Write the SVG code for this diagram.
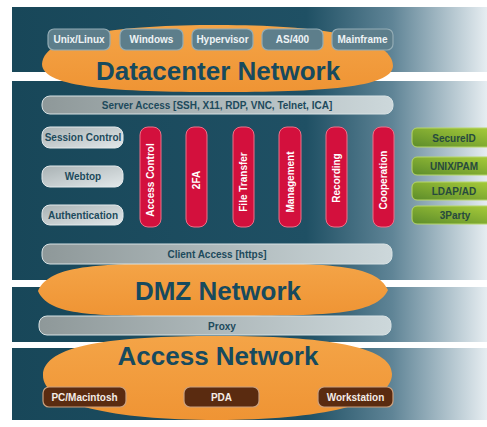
<svg xmlns="http://www.w3.org/2000/svg" width="487" height="427" viewBox="0 0 487 427">
<defs>
<linearGradient id="bg" x1="0" y1="0" x2="1" y2="0">
<stop offset="0" stop-color="#184759"/>
<stop offset="0.62" stop-color="#1f5064"/>
<stop offset="0.8" stop-color="#5f8496"/>
<stop offset="1" stop-color="#e6edf1"/>
</linearGradient>
<linearGradient id="bar" x1="0" y1="0" x2="1" y2="0">
<stop offset="0" stop-color="#8e9899"/>
<stop offset="1" stop-color="#cdd8db"/>
</linearGradient>
<linearGradient id="lbox" x1="0" y1="0" x2="1" y2="1">
<stop offset="0" stop-color="#a9b2b4"/>
<stop offset="1" stop-color="#e2e8ea"/>
</linearGradient>
<linearGradient id="grn" x1="0" y1="1" x2="1" y2="0">
<stop offset="0" stop-color="#5c8c2a"/>
<stop offset="1" stop-color="#a8cc3a"/>
</linearGradient>
<linearGradient id="org" x1="0" y1="0" x2="0" y2="1">
<stop offset="0" stop-color="#f4a447"/>
<stop offset="1" stop-color="#ef9434"/>
</linearGradient>
</defs>
<style>
.t{font-family:"Liberation Sans",Arial,sans-serif;font-weight:bold;font-size:10px;text-anchor:middle}
.big{font-family:"Liberation Sans",Arial,sans-serif;font-weight:bold;font-size:26px;text-anchor:middle;fill:#174a5e}
.top rect{fill:#5d7e8b;stroke:#93acb5;stroke-width:1.2}
.top text{fill:#eef3f5}
.bar rect{fill:url(#bar);stroke:#d8e2e4;stroke-width:1}
.bar text{fill:#1d4a5c}
.lb rect{fill:url(#lbox);stroke:#e4eaec;stroke-width:1}
.lb text{fill:#1d4a5c}
.pill rect{fill:#d3103d;stroke:#ee7088;stroke-width:1}
.pill text{fill:#ffffff}
.gb rect{fill:url(#grn);stroke:#b7d66a;stroke-width:1}
.gb text{fill:#274a3e}
.bb rect{fill:#5a2b10;stroke:#caa07e;stroke-width:1.2}
.bb text{fill:#f4ece6}
.net{fill:url(#org)}
</style>
<rect x="0" y="0" width="487" height="427" fill="#ffffff"/>
<g id="background">
<rect x="12" y="7" width="475" height="65" fill="url(#bg)"/>
<rect x="12" y="81" width="475" height="199" fill="url(#bg)"/>
<rect x="12" y="287" width="475" height="55" fill="url(#bg)"/>
<rect x="12" y="348" width="475" height="72" fill="url(#bg)"/>
</g>
<g id="connectors"></g>
<g id="datacenter-network">
<path class="net" d="M42 64 C44 34 120 25 218 25 C318 25 392 36 393 66 C392 88 320 92 218 92 C118 92 42 88 42 64 Z"/>
<text class="big" x="218" y="80">Datacenter Network</text>
</g>
<g id="unix-linux" class="top"><rect x="48" y="29" width="62" height="21" rx="6"/><text class="t" x="79" y="43">Unix/Linux</text></g>
<g id="windows" class="top"><rect x="120" y="29" width="63" height="21" rx="6"/><text class="t" x="151.5" y="43">Windows</text></g>
<g id="hypervisor" class="top"><rect x="192" y="29" width="61" height="21" rx="6"/><text class="t" x="222.5" y="43">Hypervisor</text></g>
<g id="as400" class="top"><rect x="262" y="29" width="61" height="21" rx="6"/><text class="t" x="292.5" y="43">AS/400</text></g>
<g id="mainframe" class="top"><rect x="332" y="29" width="61" height="21" rx="6"/><text class="t" x="362.5" y="43">Mainframe</text></g>
<g id="server-access" class="bar"><rect x="42" y="96" width="351" height="18" rx="8"/><text class="t" x="217" y="109">Server Access [SSH, X11, RDP, VNC, Telnet, ICA]</text></g>
<g id="session-control" class="lb"><rect x="42" y="127" width="81" height="21" rx="8"/><text class="t" x="83" y="141">Session Control</text></g>
<g id="webtop" class="lb"><rect x="42" y="166" width="81" height="21" rx="8"/><text class="t" x="83" y="180">Webtop</text></g>
<g id="authentication" class="lb"><rect x="42" y="205" width="81" height="20" rx="8"/><text class="t" x="83" y="219">Authentication</text></g>
<g id="access-control" class="pill"><rect x="140" y="127" width="21" height="100" rx="8"/><text class="t" transform="translate(154 180) rotate(-90)">Access Control</text></g>
<g id="twofa" class="pill"><rect x="186" y="127" width="21" height="100" rx="8"/><text class="t" transform="translate(200 180) rotate(-90)">2FA</text></g>
<g id="file-transfer" class="pill"><rect x="233" y="127" width="21" height="100" rx="8"/><text class="t" transform="translate(247 182) rotate(-90)">File Transfer</text></g>
<g id="management" class="pill"><rect x="279" y="127" width="22" height="100" rx="8"/><text class="t" transform="translate(293.5 182) rotate(-90)">Management</text></g>
<g id="recording" class="pill"><rect x="326" y="127" width="21" height="100" rx="8"/><text class="t" transform="translate(340 178) rotate(-90)">Recording</text></g>
<g id="cooperation" class="pill"><rect x="373" y="127" width="21" height="100" rx="8"/><text class="t" transform="translate(387 180) rotate(-90)">Cooperation</text></g>
<g id="secureid" class="gb"><rect x="412" y="128" width="80" height="19" rx="5"/><text class="t" x="454" y="141.5">SecureID</text></g>
<g id="unix-pam" class="gb"><rect x="412" y="157" width="80" height="18" rx="5"/><text class="t" x="454" y="170">UNIX/PAM</text></g>
<g id="ldap-ad" class="gb"><rect x="412" y="182" width="80" height="18" rx="5"/><text class="t" x="454" y="195">LDAP/AD</text></g>
<g id="third-party" class="gb"><rect x="412" y="206" width="80" height="18" rx="5"/><text class="t" x="455" y="219">3Party</text></g>
<g id="dmz-network">
<path class="net" d="M38 291 C50 264 100 263 213 263 C330 263 376 264 388 290 C376 315 330 316 213 316 C100 316 50 318 38 291 Z"/>
<text class="big" x="218" y="300">DMZ Network</text>
</g>
<g id="client-access" class="bar"><rect x="42" y="244" width="350" height="20" rx="8"/><text class="t" x="217" y="258">Client Access [https]</text></g>
<g id="access-network">
<path class="net" d="M43 375 C44 345 110 336 217 336 C325 336 392 346 392 374 C392 404 320 420 217 420 C112 420 42 404 43 375 Z"/>
<text class="big" x="218" y="365">Access Network</text>
</g>
<g id="proxy" class="bar"><rect x="39" y="316" width="352" height="19" rx="8"/><text class="t" x="222" y="329.5">Proxy</text></g>
<g id="pc-macintosh" class="bb"><rect x="43" y="387" width="83" height="20" rx="6"/><text class="t" x="84.5" y="401">PC/Macintosh</text></g>
<g id="pda" class="bb"><rect x="184" y="387" width="75" height="20" rx="6"/><text class="t" x="221.5" y="401">PDA</text></g>
<g id="workstation" class="bb"><rect x="318" y="387" width="75" height="20" rx="6"/><text class="t" x="355.5" y="401">Workstation</text></g>
</svg>
